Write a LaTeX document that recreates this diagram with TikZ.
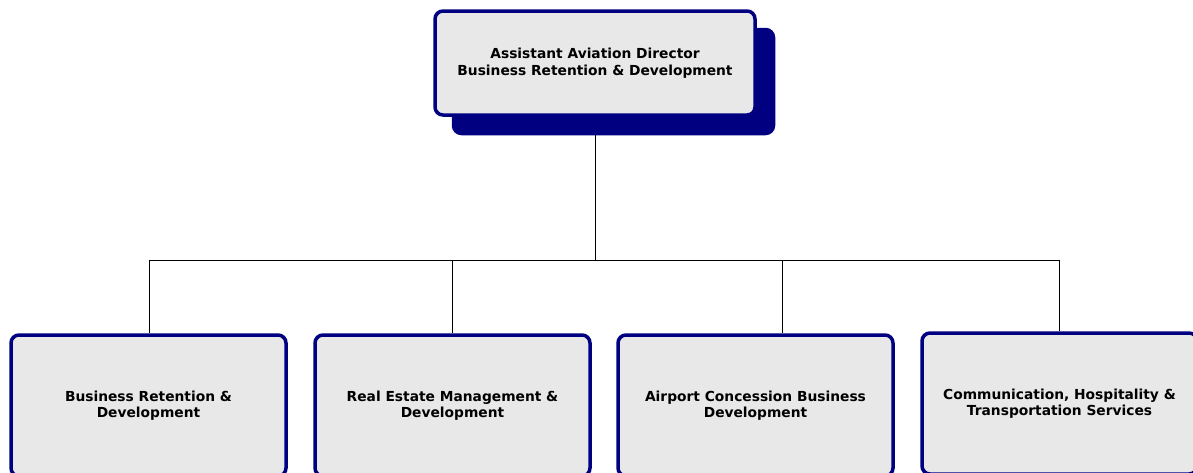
\documentclass[tikz,border=0pt]{standalone}
\usepackage{fontspec}
\setmainfont{DejaVu Sans}
\usetikzlibrary{shadows, backgrounds}
\definecolor{boxnavy}{HTML}{000080}
\definecolor{boxgray}{HTML}{E8E8E8}

\begin{document}
\begin{tikzpicture}[x=1pt, y=-1pt,
    topbox/.style={rectangle, draw=boxnavy, line width=3.5pt, fill=boxgray,
                   minimum width=320pt, minimum height=104pt, align=center,
                   rounded corners=8pt, inner sep=0pt,
                   font=\bfseries\fontsize{13.8}{17.5}\selectfont,
                   copy shadow={fill=boxnavy, draw=boxnavy,
                                shadow xshift=18.5pt, shadow yshift=-18.5pt}},
    unitbox/.style={rectangle, draw=boxnavy, line width=3.5pt, fill=boxgray,
                    minimum width=275pt, minimum height=141pt, align=center,
                    rounded corners=8pt, inner sep=0pt,
                    font=\bfseries\fontsize{13.8}{16}\selectfont},
    link/.style={line width=0.8pt, black}]

    \useasboundingbox (0,0) rectangle (1193,472);

    % Director box
    \node[topbox] (director) at (595,63) {Assistant Aviation Director\\Business Retention \& Development};

    % Unit boxes
    \node[unitbox] (retention) at (148.5,405.5) {Business Retention \&\\Development};
    \node[unitbox] (realestate) at (452.5,405.5) {Real Estate Management \&\\Development};
    \node[unitbox] (concession) at (755.5,405.5) {Airport Concession Business\\Development};
    \node[unitbox] (services) at (1059.5,403.5) {Communication, Hospitality \&\\Transportation Services};

    % Bus line and drops
    \coordinate (bus) at (595,260);
    \coordinate (drop1) at (149,260);
    \coordinate (drop2) at (452,260);
    \coordinate (drop3) at (782,260);
    \coordinate (drop4) at (1059,260);

    \begin{scope}[on background layer]
    \draw[link] (director.south) -- (bus);
    \draw[link] (drop1) -- (drop4);
    \draw[link] (drop1) -- (drop1 |- retention.north);
    \draw[link] (drop2) -- (drop2 |- realestate.north);
    \draw[link] (drop3) -- (drop3 |- concession.north);
    \draw[link] (drop4) -- (drop4 |- services.north);
    \end{scope}

\end{tikzpicture}
\end{document}
